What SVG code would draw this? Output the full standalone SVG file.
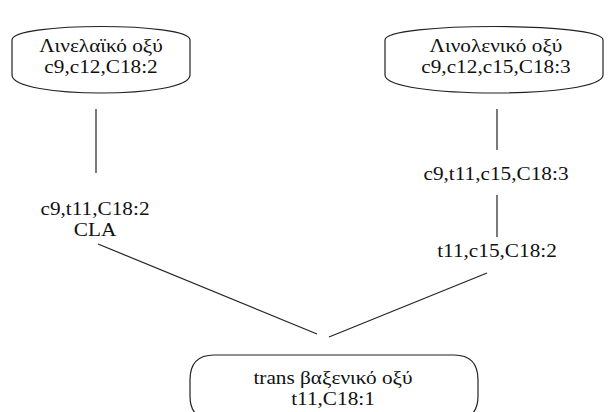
<svg xmlns="http://www.w3.org/2000/svg" width="608" height="412" viewBox="0 0 608 412">
<style>
.box{fill:#fff;stroke:#222;stroke-width:1.2}
.ln{stroke:#222;stroke-width:1.2;fill:none}
.t{font-size:19px;fill:#111;text-anchor:middle}
</style>
<rect width="608" height="412" fill="#fff"/>
<g id="connectors">
<line class="ln" x1="96" y1="109" x2="96" y2="173"/>
<line class="ln" x1="497" y1="109" x2="497" y2="150"/>
<line class="ln" x1="497" y1="195" x2="497" y2="237"/>
<line class="ln" x1="98" y1="244" x2="317" y2="334"/>
<line class="ln" x1="487" y1="273" x2="329" y2="337"/>
</g>
<g font-family="Liberation Serif, Times New Roman, serif">
<g id="node-linoleic">
<path class="box" d="M12,40 C12,22 190,22 190,40 L190,75 C190,99 12,99 12,75 Z"/>
<text class="t" transform="translate(101 0) scale(1.12 1)" y="52">Λινελαϊκό οξύ</text>
<text class="t" transform="translate(101 0) scale(1.12 1)" y="73">c9,c12,C18:2</text>
</g>
<g id="node-linolenic">
<path class="box" d="M385,40 C385,22 603,22 603,40 L603,75 C603,99 385,99 385,75 Z"/>
<text class="t" transform="translate(496 0) scale(1.12 1)" y="52">Λινολενικό οξύ</text>
<text class="t" transform="translate(496 0) scale(1.12 1)" y="73">c9,c12,c15,C18:3</text>
</g>
<g id="node-cla">
<text class="t" transform="translate(95 0) scale(1.12 1)" y="215">c9,t11,C18:2</text>
<text class="t" transform="translate(95 0) scale(1.12 1)" y="236">CLA</text>
</g>
<g id="node-c9t11c15">
<text class="t" transform="translate(496 0) scale(1.12 1)" y="180">c9,t11,c15,C18:3</text>
</g>
<g id="node-t11c15">
<text class="t" transform="translate(497 0) scale(1.12 1)" y="257">t11,c15,C18:2</text>
</g>
<g id="node-vaccenic">
<path class="box" d="M214,355 L454,355 Q478,355 478,380 L478,396 Q478,420 454,420 L214,420 Q190,420 190,396 L190,380 Q190,355 214,355 Z"/>
<text class="t" transform="translate(333 0) scale(1.12 1)" y="384">trans βαξενικό οξύ</text>
<text class="t" transform="translate(333 0) scale(1.12 1)" y="405">t11,C18:1</text>
</g>
</g>
</svg>
